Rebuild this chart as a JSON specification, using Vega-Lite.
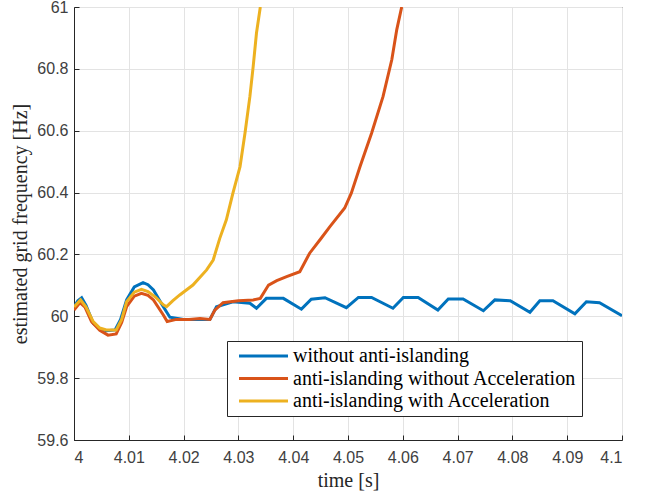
{
  "$schema": "https://vega.github.io/schema/vega-lite/v6.json",
  "width": 548,
  "height": 433,
  "autosize": "none",
  "padding": {"left": 74, "top": 7, "right": 24, "bottom": 55},
  "background": "white",
  "config": {
    "view": {"stroke": "#262626", "strokeWidth": 1},
    "axis": {
      "labelFont": "Liberation Sans",
      "labelFontSize": 16,
      "labelColor": "#404040",
      "titleFont": "Liberation Serif",
      "titleFontSize": 20,
      "titleFontWeight": "normal",
      "titleColor": "#262626",
      "gridColor": "#e3e3e3",
      "gridWidth": 1,
      "domainColor": "#262626",
      "tickColor": "#262626",
      "tickSize": -5,
      "labelPadding": 11
    }
  },
  "data": {
    "values": [
      {"t": 4.0000, "f": 60.031, "s": "without anti-islanding"},
      {"t": 4.0007, "f": 60.050, "s": "without anti-islanding"},
      {"t": 4.0014, "f": 60.060, "s": "without anti-islanding"},
      {"t": 4.0022, "f": 60.035, "s": "without anti-islanding"},
      {"t": 4.0035, "f": 59.977, "s": "without anti-islanding"},
      {"t": 4.0047, "f": 59.960, "s": "without anti-islanding"},
      {"t": 4.0059, "f": 59.953, "s": "without anti-islanding"},
      {"t": 4.0075, "f": 59.956, "s": "without anti-islanding"},
      {"t": 4.0085, "f": 59.990, "s": "without anti-islanding"},
      {"t": 4.0096, "f": 60.053, "s": "without anti-islanding"},
      {"t": 4.0110, "f": 60.095, "s": "without anti-islanding"},
      {"t": 4.0126, "f": 60.109, "s": "without anti-islanding"},
      {"t": 4.0135, "f": 60.102, "s": "without anti-islanding"},
      {"t": 4.0145, "f": 60.085, "s": "without anti-islanding"},
      {"t": 4.0163, "f": 60.031, "s": "without anti-islanding"},
      {"t": 4.0175, "f": 59.997, "s": "without anti-islanding"},
      {"t": 4.0200, "f": 59.990, "s": "without anti-islanding"},
      {"t": 4.0225, "f": 59.990, "s": "without anti-islanding"},
      {"t": 4.0248, "f": 59.990, "s": "without anti-islanding"},
      {"t": 4.0260, "f": 60.031, "s": "without anti-islanding"},
      {"t": 4.0290, "f": 60.047, "s": "without anti-islanding"},
      {"t": 4.0321, "f": 60.042, "s": "without anti-islanding"},
      {"t": 4.0333, "f": 60.026, "s": "without anti-islanding"},
      {"t": 4.0351, "f": 60.058, "s": "without anti-islanding"},
      {"t": 4.0382, "f": 60.058, "s": "without anti-islanding"},
      {"t": 4.0415, "f": 60.023, "s": "without anti-islanding"},
      {"t": 4.0433, "f": 60.055, "s": "without anti-islanding"},
      {"t": 4.0458, "f": 60.060, "s": "without anti-islanding"},
      {"t": 4.0497, "f": 60.028, "s": "without anti-islanding"},
      {"t": 4.0519, "f": 60.061, "s": "without anti-islanding"},
      {"t": 4.0543, "f": 60.061, "s": "without anti-islanding"},
      {"t": 4.0582, "f": 60.026, "s": "without anti-islanding"},
      {"t": 4.0601, "f": 60.061, "s": "without anti-islanding"},
      {"t": 4.0628, "f": 60.061, "s": "without anti-islanding"},
      {"t": 4.0664, "f": 60.020, "s": "without anti-islanding"},
      {"t": 4.0683, "f": 60.056, "s": "without anti-islanding"},
      {"t": 4.0710, "f": 60.056, "s": "without anti-islanding"},
      {"t": 4.0747, "f": 60.018, "s": "without anti-islanding"},
      {"t": 4.0768, "f": 60.053, "s": "without anti-islanding"},
      {"t": 4.0796, "f": 60.050, "s": "without anti-islanding"},
      {"t": 4.0832, "f": 60.013, "s": "without anti-islanding"},
      {"t": 4.0850, "f": 60.050, "s": "without anti-islanding"},
      {"t": 4.0874, "f": 60.050, "s": "without anti-islanding"},
      {"t": 4.0914, "f": 60.008, "s": "without anti-islanding"},
      {"t": 4.0935, "f": 60.047, "s": "without anti-islanding"},
      {"t": 4.0959, "f": 60.044, "s": "without anti-islanding"},
      {"t": 4.1000, "f": 60.002, "s": "without anti-islanding"},

      {"t": 4.0000, "f": 60.020, "s": "anti-islanding without Acceleration"},
      {"t": 4.0011, "f": 60.044, "s": "anti-islanding without Acceleration"},
      {"t": 4.0020, "f": 60.030, "s": "anti-islanding without Acceleration"},
      {"t": 4.0032, "f": 59.983, "s": "anti-islanding without Acceleration"},
      {"t": 4.0047, "f": 59.955, "s": "anti-islanding without Acceleration"},
      {"t": 4.0062, "f": 59.939, "s": "anti-islanding without Acceleration"},
      {"t": 4.0077, "f": 59.943, "s": "anti-islanding without Acceleration"},
      {"t": 4.0087, "f": 59.980, "s": "anti-islanding without Acceleration"},
      {"t": 4.0096, "f": 60.031, "s": "anti-islanding without Acceleration"},
      {"t": 4.0110, "f": 60.065, "s": "anti-islanding without Acceleration"},
      {"t": 4.0123, "f": 60.074, "s": "anti-islanding without Acceleration"},
      {"t": 4.0135, "f": 60.068, "s": "anti-islanding without Acceleration"},
      {"t": 4.0145, "f": 60.053, "s": "anti-islanding without Acceleration"},
      {"t": 4.0163, "f": 60.004, "s": "anti-islanding without Acceleration"},
      {"t": 4.0170, "f": 59.983, "s": "anti-islanding without Acceleration"},
      {"t": 4.0187, "f": 59.990, "s": "anti-islanding without Acceleration"},
      {"t": 4.0210, "f": 59.990, "s": "anti-islanding without Acceleration"},
      {"t": 4.0230, "f": 59.993, "s": "anti-islanding without Acceleration"},
      {"t": 4.0248, "f": 59.990, "s": "anti-islanding without Acceleration"},
      {"t": 4.0257, "f": 60.020, "s": "anti-islanding without Acceleration"},
      {"t": 4.0272, "f": 60.044, "s": "anti-islanding without Acceleration"},
      {"t": 4.0300, "f": 60.050, "s": "anti-islanding without Acceleration"},
      {"t": 4.0327, "f": 60.053, "s": "anti-islanding without Acceleration"},
      {"t": 4.0340, "f": 60.058, "s": "anti-islanding without Acceleration"},
      {"t": 4.0355, "f": 60.101, "s": "anti-islanding without Acceleration"},
      {"t": 4.0370, "f": 60.115, "s": "anti-islanding without Acceleration"},
      {"t": 4.0388, "f": 60.128, "s": "anti-islanding without Acceleration"},
      {"t": 4.0412, "f": 60.144, "s": "anti-islanding without Acceleration"},
      {"t": 4.0430, "f": 60.204, "s": "anti-islanding without Acceleration"},
      {"t": 4.0450, "f": 60.250, "s": "anti-islanding without Acceleration"},
      {"t": 4.0467, "f": 60.290, "s": "anti-islanding without Acceleration"},
      {"t": 4.0494, "f": 60.350, "s": "anti-islanding without Acceleration"},
      {"t": 4.0506, "f": 60.398, "s": "anti-islanding without Acceleration"},
      {"t": 4.0522, "f": 60.484, "s": "anti-islanding without Acceleration"},
      {"t": 4.0543, "f": 60.592, "s": "anti-islanding without Acceleration"},
      {"t": 4.0564, "f": 60.711, "s": "anti-islanding without Acceleration"},
      {"t": 4.0580, "f": 60.830, "s": "anti-islanding without Acceleration"},
      {"t": 4.0589, "f": 60.927, "s": "anti-islanding without Acceleration"},
      {"t": 4.0598, "f": 61.000, "s": "anti-islanding without Acceleration"},

      {"t": 4.0000, "f": 60.030, "s": "anti-islanding with Acceleration"},
      {"t": 4.0012, "f": 60.053, "s": "anti-islanding with Acceleration"},
      {"t": 4.0022, "f": 60.030, "s": "anti-islanding with Acceleration"},
      {"t": 4.0035, "f": 59.983, "s": "anti-islanding with Acceleration"},
      {"t": 4.0047, "f": 59.962, "s": "anti-islanding with Acceleration"},
      {"t": 4.0059, "f": 59.956, "s": "anti-islanding with Acceleration"},
      {"t": 4.0077, "f": 59.956, "s": "anti-islanding with Acceleration"},
      {"t": 4.0087, "f": 59.990, "s": "anti-islanding with Acceleration"},
      {"t": 4.0096, "f": 60.047, "s": "anti-islanding with Acceleration"},
      {"t": 4.0110, "f": 60.078, "s": "anti-islanding with Acceleration"},
      {"t": 4.0123, "f": 60.087, "s": "anti-islanding with Acceleration"},
      {"t": 4.0135, "f": 60.080, "s": "anti-islanding with Acceleration"},
      {"t": 4.0148, "f": 60.063, "s": "anti-islanding with Acceleration"},
      {"t": 4.0163, "f": 60.037, "s": "anti-islanding with Acceleration"},
      {"t": 4.0169, "f": 60.031, "s": "anti-islanding with Acceleration"},
      {"t": 4.0180, "f": 60.050, "s": "anti-islanding with Acceleration"},
      {"t": 4.0193, "f": 60.069, "s": "anti-islanding with Acceleration"},
      {"t": 4.0217, "f": 60.101, "s": "anti-islanding with Acceleration"},
      {"t": 4.0242, "f": 60.150, "s": "anti-islanding with Acceleration"},
      {"t": 4.0254, "f": 60.182, "s": "anti-islanding with Acceleration"},
      {"t": 4.0266, "f": 60.252, "s": "anti-islanding with Acceleration"},
      {"t": 4.0278, "f": 60.312, "s": "anti-islanding with Acceleration"},
      {"t": 4.0290, "f": 60.398, "s": "anti-islanding with Acceleration"},
      {"t": 4.0303, "f": 60.484, "s": "anti-islanding with Acceleration"},
      {"t": 4.0312, "f": 60.592, "s": "anti-islanding with Acceleration"},
      {"t": 4.0321, "f": 60.711, "s": "anti-islanding with Acceleration"},
      {"t": 4.0327, "f": 60.808, "s": "anti-islanding with Acceleration"},
      {"t": 4.0333, "f": 60.916, "s": "anti-islanding with Acceleration"},
      {"t": 4.0340, "f": 61.000, "s": "anti-islanding with Acceleration"}
    ]
  },
  "mark": {"type": "line", "strokeWidth": 3, "clip": true},
  "encoding": {
    "x": {
      "field": "t",
      "type": "quantitative",
      "title": "time [s]",
      "scale": {"domain": [4, 4.1], "nice": false, "zero": false},
      "axis": {
        "values": [4, 4.01, 4.02, 4.03, 4.04, 4.05, 4.06, 4.07, 4.08, 4.09, 4.1],
        "format": "~g",
        "titleY": 46,
        "titleBaseline": "alphabetic",
        "labelPadding": 14
      }
    },
    "y": {
      "field": "f",
      "type": "quantitative",
      "title": "estimated grid frequency [Hz]",
      "scale": {"domain": [59.6, 61], "nice": false, "zero": false},
      "axis": {
        "values": [59.6, 59.8, 60, 60.2, 60.4, 60.6, 60.8, 61],
        "format": "~g",
        "titleX": -54,
        "titleBaseline": "middle"
      }
    },
    "color": {
      "field": "s",
      "type": "nominal",
      "sort": null,
      "scale": {
        "domain": ["without anti-islanding", "anti-islanding without Acceleration", "anti-islanding with Acceleration"],
        "range": ["#0072BD", "#D95319", "#EDB120"]
      },
      "legend": {
        "title": null,
        "orient": "none",
        "legendX": 153,
        "legendY": 334,
        "symbolType": "M-0.6,0H9.2",
        "symbolSize": 100,
        "symbolStrokeWidth": 3,
        "labelFont": "Liberation Serif",
        "labelFontSize": 20,
        "labelColor": "#000000",
        "labelOffset": 41,
        "labelLimit": 400,
        "rowPadding": 2.5,
        "padding": 5,
        "strokeColor": "#262626",
        "fillColor": "white"
      }
    }
  }
}
